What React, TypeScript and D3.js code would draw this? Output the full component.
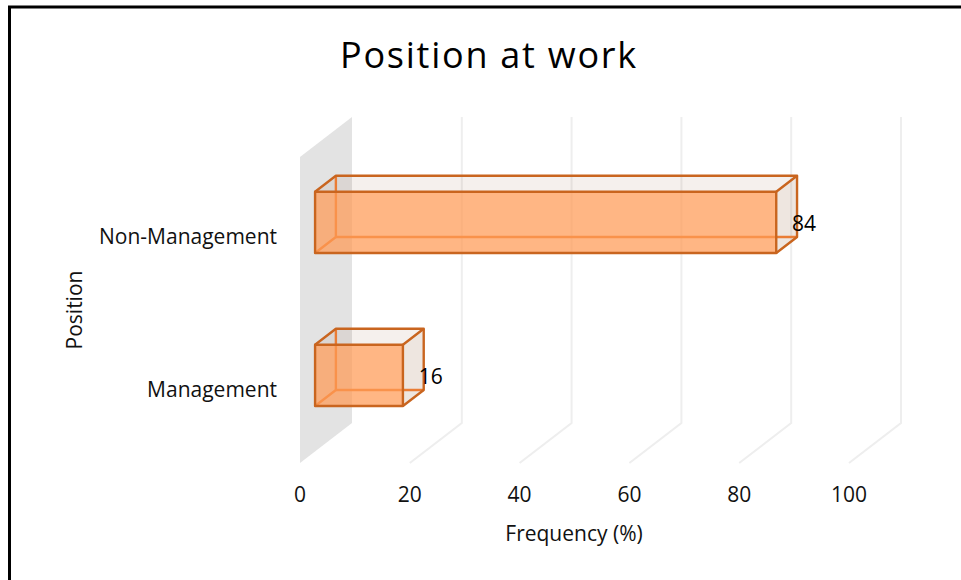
import React from "react";
import * as d3 from "d3";

const categories = ["Non-Management", "Management"];
const values = [84, 16];
const xTicks = [0, 20, 40, 60, 80, 100];
const titleText = "Position at work";
const xAxisTitle = "Frequency (%)";
const yAxisTitle = "Position";

const FONT = "'Open Sans', sans-serif";
const W = 961, H = 580;
const x = d3.scaleLinear().domain([0, 100]).range([300, 849]);
const y = d3.scaleBand<string>().domain(categories).range([157.5, 463.5]).paddingInner(0.6).paddingOuter(0.3);
const DX = 52, DY = -40;
const BAR_NEAR = 0.29, BAR_FAR = 0.69;
const pt = (v: number, yy: number, t: number): [number, number] => [x(v) + DX * t, yy + DY * t];
const path = (ps: [number, number][], close = true) => d3.line()(ps) + (close ? "Z" : "");

function Bar({ cat, v }: { cat: string; v: number }) {
  const t = y(cat)!;
  const b = t + y.bandwidth();
  const a = BAR_NEAR, c = BAR_FAR;
  const dark = "#c9651f", mid = "#ea7d35";
  return (
    <g strokeLinejoin="round">
      <path d={path([pt(0, t, a), pt(0, t, c), pt(v, t, c), pt(v, t, a)])} fill="#9a6b4a" fillOpacity={0.1} />
      <path d={path([pt(v, t, a), pt(v, t, c), pt(v, b, c), pt(v, b, a)])} fill="#9a6b4a" fillOpacity={0.17} />
      <path d={path([pt(0, b, c), pt(v, b, c)], false)} stroke={mid} strokeWidth={2.4} fill="none" />
      <path d={path([pt(0, t, c), pt(0, b, c), pt(0, b, a)], false)} stroke={mid} strokeWidth={2.4} fill="none" />
      <path d={path([pt(0, t, a), pt(v, t, a), pt(v, b, a), pt(0, b, a)])} fill="#ff9a55" fillOpacity={0.72} />
      <path d={path([pt(0, t, a), pt(v, t, a), pt(v, b, a), pt(0, b, a)])} fill="none" stroke={dark} strokeWidth={2.4} />
      <path d={path([pt(0, t, a), pt(0, t, c), pt(v, t, c), pt(v, t, a)], false)} fill="none" stroke={dark} strokeWidth={2.4} />
      <path d={path([pt(v, t, c), pt(v, b, c), pt(v, b, a)], false)} fill="none" stroke={dark} strokeWidth={2.4} />
    </g>
  );
}

export default function App() {
  const top = 157, bottom = 463;
  return (
    <svg width={W} height={H} viewBox={`0 0 ${W} ${H}`} style={{ position: "fixed", left: 0, top: 0, background: "#fff" }} fontFamily={FONT}>
      <path d={`M9.5 ${H}V7H${W}`} fill="none" stroke="#000" strokeWidth={3} />
      <path d={path([pt(0, bottom, 0), pt(0, top, 0), pt(0, top, 1), pt(0, bottom, 1)])} fill="#e3e3e3" />
      {xTicks.slice(1).map(tk => (
        <path key={tk} d={path([pt(tk, bottom, 0), pt(tk, bottom, 1), pt(tk, top, 1)], false)} fill="none" stroke="#eeeeee" strokeWidth={2} />
      ))}
      {categories.map((c, i) => <Bar key={c} cat={c} v={values[i]} />)}
      {categories.map((c, i) => (
        <text key={c} x={x(values[i]) + DX * BAR_FAR - 5} y={y(c)! + y.bandwidth() / 2 - 11} dominantBaseline="central" fontSize={21} fill="#000">{values[i]}</text>
      ))}
      {categories.map(c => (
        <text key={c} x={277} y={y(c)! + y.bandwidth() / 2 + 1.5} textAnchor="end" dominantBaseline="central" fontSize={21} fill="#111">{c}</text>
      ))}
      {xTicks.map(tk => (
        <text key={tk} x={x(tk)} y={494} textAnchor="middle" dominantBaseline="central" fontSize={21} fill="#111">{tk}</text>
      ))}
      <text x={489} y={54.5} textAnchor="middle" dominantBaseline="central" fontSize={36} letterSpacing={1.75} fill="#000">{titleText}</text>
      <text x={574} y={532.5} textAnchor="middle" dominantBaseline="central" fontSize={21} fill="#111">{xAxisTitle}</text>
      <text transform="translate(74,310) rotate(-90)" textAnchor="middle" dominantBaseline="central" fontSize={21} fill="#111">{yAxisTitle}</text>
    </svg>
  );
}
